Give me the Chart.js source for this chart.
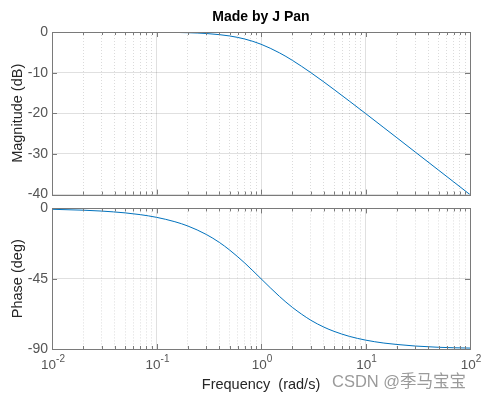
<!DOCTYPE html>
<html>
<head>
<meta charset="utf-8">
<script src="https://cdn.jsdelivr.net/npm/chart.js@4"></script>
<style>
    html, body { margin: 0; padding: 0; background: #fff; }
    #wrap { position: relative; width: 483px; height: 396px; overflow: hidden; font-family: "Liberation Sans", Arial, sans-serif; }
    .box { position: absolute; left: 0; width: 483px; }
    #watermark { position: absolute; left: 332px; top: 368px; font-size: 16.5px; color: rgba(120,120,120,0.75); white-space: nowrap; font-family: "Liberation Sans", "Noto Sans CJK SC", sans-serif; }
</style>
</head>
<body>
<div id="wrap">
    <div class="box" style="top:0;height:207px"><canvas id="grafMag" width="483" height="207"></canvas></div>
    <div class="box" style="top:196px;height:200px"><canvas id="grafFaze" width="483" height="200"></canvas></div>
    <div id="watermark">CSDN @季马宝宝</div>
</div>
<script>
// frekvence (rad/s) a hodnoty
const frekvence = [0.01, 0.02, 0.03, 0.05, 0.07, 0.1, 0.15, 0.2, 0.3, 0.4, 0.5, 0.7, 1, 1.5, 2, 3, 4, 5, 7, 10, 15, 20, 30, 50, 70, 100];
const magnituda = [0, 0, 0, -0.01, -0.02, -0.04, -0.1, -0.17, -0.37, -0.65, -0.97, -1.73, -3.01, -5.12, -6.99, -10, -12.3, -14.15, -16.99, -20.04, -23.54, -26.03, -29.55, -33.98, -36.9, -40];
const faze = [-0.57, -1.15, -1.72, -2.86, -4, -5.71, -8.53, -11.3, -16.7, -21.8, -26.6, -35, -45, -56.3, -63.4, -71.6, -76, -78.7, -81.9, -84.3, -86.2, -87.1, -88.1, -88.9, -89.2, -89.4];

const dekady = [0.01, 0.1, 1, 10, 100];
const exponenty = ['-2', '-1', '0', '1', '2'];
const tickyMag = [0, -10, -20, -30, -40];
const tickyFaze = [0, -45, -90];

const barvaCary = '#0072BD';
const barvaOsy = '#7a7a7a';
const barvaTextu = '#555555';
const pismo = '"Liberation Sans", Arial, sans-serif';

// všechny pozice mřížky na log ose (1..9 v každé dekádě)
const mrizkaX = [];
for (let d = 0; d < dekady.length; d++) {
    for (let k = 1; k <= 9; k++) {
        const v = dekady[d] * k;
        if (v <= 100 + 1e-9) mrizkaX.push(v);
    }
}

function jeDekada(v) {
    return dekady.some(d => Math.abs(d - v) / d < 1e-6);
}

// rámeček a ticky dovnitř jako v MATLABu
const ramecek = {
    id: 'ramecek',
    afterDraw(chart) {
        const { ctx, chartArea: a, scales } = chart;
        ctx.save();
        ctx.strokeStyle = barvaOsy;
        ctx.lineWidth = 1;
        ctx.beginPath();
        mrizkaX.forEach(v => {
            const x = Math.round(scales.x.getPixelForValue(v)) + 0.5;
            const len = jeDekada(v) ? 5 : 3;
            ctx.moveTo(x, a.bottom); ctx.lineTo(x, a.bottom - len);
            ctx.moveTo(x, a.top); ctx.lineTo(x, a.top + len);
        });
        scales.y.ticks.forEach(t => {
            const y = Math.round(scales.y.getPixelForValue(t.value)) + 0.5;
            ctx.moveTo(a.left, y); ctx.lineTo(a.left + 5, y);
            ctx.moveTo(a.right, y); ctx.lineTo(a.right - 5, y);
        });
        ctx.stroke();
        ctx.strokeRect(Math.round(a.left) + 0.5, Math.round(a.top) + 0.5, Math.round(a.right - a.left), Math.round(a.bottom - a.top));

        const opt = chart.options.plugins.ramecek || {};
        // nadpis nad středem grafu
        if (opt.nadpis) {
            ctx.fillStyle = '#000';
            ctx.font = 'bold 14px ' + pismo;
            ctx.textAlign = 'center';
            ctx.textBaseline = 'middle';
            ctx.fillText(opt.nadpis, (a.left + a.right) / 2, 17);
        }
        // popisky dekád 10^n s horním indexem
        if (opt.popiskyX) {
            ctx.fillStyle = barvaTextu;
            ctx.textBaseline = 'alphabetic';
            dekady.forEach((d, i) => {
                const x = scales.x.getPixelForValue(d);
                ctx.font = '13.5px ' + pismo;
                const w1 = ctx.measureText('10').width;
                ctx.font = '10px ' + pismo;
                const w2 = ctx.measureText(exponenty[i]).width;
                const x0 = x - (w1 + w2) / 2 + 1;
                ctx.textAlign = 'left';
                ctx.font = '13.5px ' + pismo;
                ctx.fillText('10', x0, a.bottom + 20);
                ctx.font = '10px ' + pismo;
                ctx.fillText(exponenty[i], x0 + w1, a.bottom + 13);
            });
        }
        ctx.restore();
    }
};

function osaX(sPopisky) {
    return {
        type: 'logarithmic',
        min: 0.01,
        max: 100,
        afterBuildTicks: scale => {
            scale.ticks = mrizkaX.map(v => ({ value: v, major: jeDekada(v) }));
        },
        afterFit: scale => { scale.height = sPopisky ? 45 : 0; },
        grid: {
            color: ctx => ctx.tick && jeDekada(ctx.tick.value) ? 'rgba(0,0,0,0.12)' : 'rgba(0,0,0,0.14)',
            drawTicks: false
        },
        border: {
            display: false,
            dash: ctx => ctx.tick && jeDekada(ctx.tick.value) ? [] : [1, 2]
        },
        ticks: { display: false },
        title: {
            display: sPopisky,
            text: 'Frequency  (rad/s)',
            color: '#262626',
            font: { size: 14.5, family: pismo },
            padding: { top: 24, bottom: 0 }
        }
    };
}

function osaY(ticky, nazev) {
    return {
        min: ticky[ticky.length - 1],
        max: ticky[0],
        afterBuildTicks: scale => {
            scale.ticks = ticky.map(v => ({ value: v }));
        },
        afterFit: scale => { scale.width = 52; },
        grid: { color: 'rgba(0,0,0,0.12)', drawTicks: false },
        border: { display: false },
        ticks: { color: barvaTextu, font: { size: 14, family: pismo }, padding: 4 },
        title: {
            display: true,
            text: nazev,
            color: '#262626',
            font: { size: 14.5, family: pismo },
            padding: { top: 9, bottom: 2 }
        }
    };
}

function dataset(hodnoty) {
    return {
        data: frekvence.map((f, i) => ({ x: f, y: hodnoty[i] })),
        borderColor: barvaCary,
        borderWidth: 1,
        pointRadius: 0,
        fill: false,
        cubicInterpolationMode: 'monotone'
    };
}

window.grafMag = new Chart(document.getElementById('grafMag').getContext('2d'), {
    type: 'line',
    data: { datasets: [dataset(magnituda)] },
    options: {
        responsive: false,
        animation: false,
        layout: { padding: { left: 0, right: 13, top: 32, bottom: 0 } },
        plugins: {
            legend: { display: false },
            tooltip: { enabled: false },
            ramecek: { nadpis: 'Made by J Pan' }
        },
        scales: { x: osaX(false), y: osaY(tickyMag, 'Magnitude (dB)') }
    },
    plugins: [ramecek]
});

window.grafFaze = new Chart(document.getElementById('grafFaze').getContext('2d'), {
    type: 'line',
    data: { datasets: [dataset(faze)] },
    options: {
        responsive: false,
        animation: false,
        layout: { padding: { left: 0, right: 13, top: 3, bottom: 2 } },
        plugins: {
            legend: { display: false },
            tooltip: { enabled: false },
            ramecek: { popiskyX: true }
        },
        scales: { x: osaX(true), y: osaY(tickyFaze, 'Phase (deg)') }
    },
    plugins: [ramecek]
});
</script>
</body>
</html>
